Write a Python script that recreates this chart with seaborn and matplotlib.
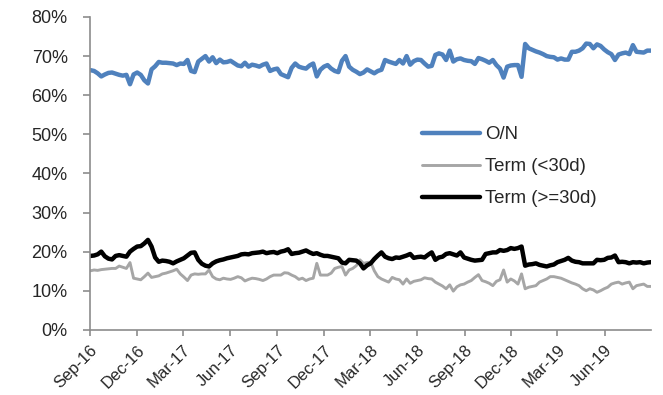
import numpy as np
import pandas as pd
import matplotlib
matplotlib.use("Agg")
import matplotlib.pyplot as plt
import matplotlib.transforms as mtransforms
from matplotlib.ticker import FuncFormatter
import seaborn as sns

# Weekly share of repo volume by tenor (%), Sep 2016 - Aug 2019
on_share = [
    66.4, 66.2, 65.6, 64.8, 65.3, 65.7, 65.8, 65.5, 65.2, 65.0,
    65.2, 62.8, 65.3, 65.8, 65.2, 63.8, 63.0, 66.6, 67.4, 68.5,
    68.3, 68.3, 68.2, 68.1, 67.7, 68.1, 68.0, 69.0, 66.2, 65.9,
    68.6, 69.3, 70.0, 68.6, 69.7, 68.2, 69.1, 68.4, 68.5, 68.8,
    68.2, 67.6, 67.4, 68.3, 67.3, 67.8, 67.6, 67.3, 67.8, 68.1,
    66.2, 66.6, 66.8, 65.4, 65.0, 64.6, 67.0, 68.1, 67.3, 67.0,
    66.8, 67.6, 68.1, 64.8, 66.5, 67.3, 67.7, 66.8, 66.2, 65.9,
    68.8, 70.0, 67.3, 66.5, 66.0, 65.4, 65.8, 66.6, 66.1, 65.6,
    66.2, 66.5, 69.0, 68.6, 68.3, 68.0, 69.0, 68.1, 70.0, 67.8,
    68.7, 69.1, 69.0, 68.1, 67.3, 67.5, 70.3, 70.7, 70.4, 69.0,
    71.4, 68.6, 69.2, 69.4, 69.0, 68.8, 68.7, 68.0, 69.5, 69.2,
    68.8, 68.3, 69.0, 67.7, 66.8, 64.5, 67.3, 67.6, 67.7, 67.7,
    64.7, 73.1, 72.0, 71.6, 71.2, 70.9, 70.5, 70.0, 69.8, 69.7,
    69.1, 69.4, 69.1, 69.1, 71.1, 71.1, 71.4, 72.0, 73.2, 73.1,
    72.0, 73.0, 72.6, 71.7, 71.0, 70.5, 69.0, 70.4, 70.7, 70.9,
    70.5, 72.8, 71.1, 71.0, 70.9, 71.4, 71.4,
]

term_short = [
    15.1, 15.3, 15.2, 15.4, 15.5, 15.6, 15.7, 15.7, 16.3, 16.0,
    15.7, 17.2, 13.2, 13.0, 12.8, 13.6, 14.5, 13.4, 13.6, 13.8,
    14.3, 14.5, 14.8, 15.1, 15.5, 14.3, 13.5, 12.6, 14.0, 14.3,
    14.2, 14.3, 14.3, 15.3, 13.6, 13.0, 12.8, 13.2, 13.0, 12.9,
    13.2, 13.6, 13.3, 12.5, 12.9, 13.2, 13.1, 12.9, 12.6, 13.0,
    13.6, 14.0, 14.0, 14.0, 14.6, 14.5, 14.0, 13.6, 12.9, 13.2,
    12.6, 13.0, 13.2, 17.0, 14.0, 14.0, 14.0, 14.5, 15.7, 16.0,
    16.2, 14.0, 15.3, 15.7, 16.4, 17.9, 17.0, 17.2, 17.3, 15.1,
    13.6, 13.0, 12.6, 12.2, 13.4, 13.0, 12.8, 11.7, 13.0, 11.9,
    12.4, 12.6, 12.8, 13.3, 13.1, 13.0, 12.2, 11.7, 11.2, 10.5,
    11.5, 9.9, 11.0, 11.5, 11.7, 12.2, 12.6, 13.4, 14.1, 12.6,
    12.3, 11.9, 11.3, 12.4, 12.8, 15.3, 12.2, 13.0, 12.5, 11.7,
    14.3, 10.5, 10.9, 11.1, 11.3, 12.2, 12.6, 13.0, 13.6, 13.6,
    13.4, 13.2, 12.8, 12.4, 12.0, 11.7, 11.3, 10.5, 10.0, 10.5,
    10.2, 9.6, 10.0, 10.5, 10.9, 11.7, 12.0, 12.2, 11.7, 12.0,
    12.2, 10.5, 11.3, 11.5, 11.7, 11.1, 11.1,
]

term_long = [
    18.9, 19.0, 19.3, 20.0, 18.8, 18.2, 18.0, 18.9, 19.1, 18.9,
    18.7, 20.0, 20.7, 21.3, 21.4, 22.1, 23.0, 21.3, 18.5, 17.4,
    17.7, 17.6, 17.4, 17.0, 17.5, 17.9, 18.3, 19.0, 19.7, 19.8,
    17.9, 16.9, 16.4, 16.2, 17.0, 17.5, 17.8, 18.0, 18.3, 18.5,
    18.7, 18.9, 19.3, 19.4, 19.3, 19.6, 19.7, 19.8, 20.0, 19.6,
    19.8, 19.9, 19.6, 20.0, 20.2, 20.6, 19.4, 19.6, 19.7, 20.0,
    20.3, 19.8, 19.4, 19.6, 19.2, 18.9, 18.9, 18.7, 18.5, 18.3,
    17.2, 17.0, 17.9, 17.8, 17.7, 17.0, 15.7, 16.5, 17.0, 18.1,
    19.0, 19.8, 18.7, 18.3, 18.1, 18.5, 18.4, 18.7, 19.0, 19.4,
    18.4, 18.6, 18.7, 18.5, 19.2, 19.8, 17.9, 18.5, 18.7, 19.4,
    19.6, 19.3, 19.0, 19.8, 18.5, 18.2, 17.9, 17.7, 17.8, 17.9,
    19.4, 19.6, 19.8, 19.8, 20.4, 20.2, 20.4, 20.9, 20.7, 20.9,
    21.3, 16.4, 16.7, 16.8, 17.0, 16.6, 16.4, 16.2, 16.5, 16.7,
    17.3, 17.6, 17.9, 18.4, 17.7, 17.4, 17.3, 17.0, 17.0, 17.0,
    17.0, 17.9, 17.8, 17.9, 18.4, 18.5, 19.0, 17.3, 17.4, 17.3,
    17.0, 17.3, 17.2, 17.3, 17.0, 17.2, 17.3,
]

series_names = ["O/N", "Term (<30d)", "Term (>=30d)"]
series_colors = ["#4F81BD", "#A6A6A6", "#000000"]
series_widths = [3.2, 2.1, 3.2]

tick_labels = ["Sep-16", "Dec-16", "Mar-17", "Jun-17", "Sep-17", "Dec-17",
               "Mar-18", "Jun-18", "Sep-18", "Dec-18", "Mar-19", "Jun-19"]
y_ticks = [0, 10, 20, 30, 40, 50, 60, 70, 80]

dates = pd.date_range("2016-09-02", periods=len(on_share), freq="7D")
df = pd.DataFrame({
    "date": np.tile(dates, 3),
    "share": on_share + term_short + term_long,
    "series": np.repeat(series_names, len(dates)),
})

sns.set_style("white")
plt.rcParams["font.family"] = ["Liberation Sans", "DejaVu Sans"]

fig = plt.figure(figsize=(6.63, 3.95), dpi=100)
ax = fig.add_axes([0.1357, 0.165, 0.846, 0.792])

for name, color, lw in zip(series_names, series_colors, series_widths):
    sub = df[df["series"] == name]
    sns.lineplot(data=sub, x="date", y="share", ax=ax, color=color,
                 linewidth=lw, label=name, solid_capstyle="round",
                 solid_joinstyle="round")

ax.set_xlim(pd.Timestamp("2016-09-01"), pd.Timestamp("2019-08-30"))
ax.set_ylim(0, 80)

tick_dates = pd.date_range("2016-09-01", periods=len(tick_labels), freq="3MS")
ax.set_xticks(tick_dates)
ax.set_xticklabels(tick_labels, rotation=45, ha="right", va="top",
                   rotation_mode="anchor", fontsize=12)
shift = mtransforms.ScaledTranslation(3 / 100, 0, fig.dpi_scale_trans)
for lab in ax.get_xticklabels():
    lab.set_transform(lab.get_transform() + shift)

ax.set_yticks(y_ticks)
ax.yaxis.set_major_formatter(FuncFormatter(lambda v, p: f"{v:.0f}%"))

ax.set_xlabel("")
ax.set_ylabel("")
for side in ["top", "right"]:
    ax.spines[side].set_visible(False)
for side in ["left", "bottom"]:
    ax.spines[side].set_color("#8C8C8C")
    ax.spines[side].set_linewidth(1.2)

ax.tick_params(axis="x", direction="out", length=4, width=1.2,
               color="#8C8C8C", pad=5, bottom=True)
ax.tick_params(axis="y", direction="out", length=5, width=1.2,
               color="#8C8C8C", pad=11, labelsize=13, left=True)
ax.grid(False)

leg = ax.legend(loc="center left", bbox_to_anchor=(0.6365, 0.578),
                bbox_transform=fig.transFigure, frameon=False,
                fontsize=13.4, handlelength=3.1, handletextpad=0.27,
                labelspacing=0.8, borderpad=0, borderaxespad=0)
for line in leg.get_lines():
    line.set_solid_capstyle("round")

fig.savefig("out.png", dpi=100)
